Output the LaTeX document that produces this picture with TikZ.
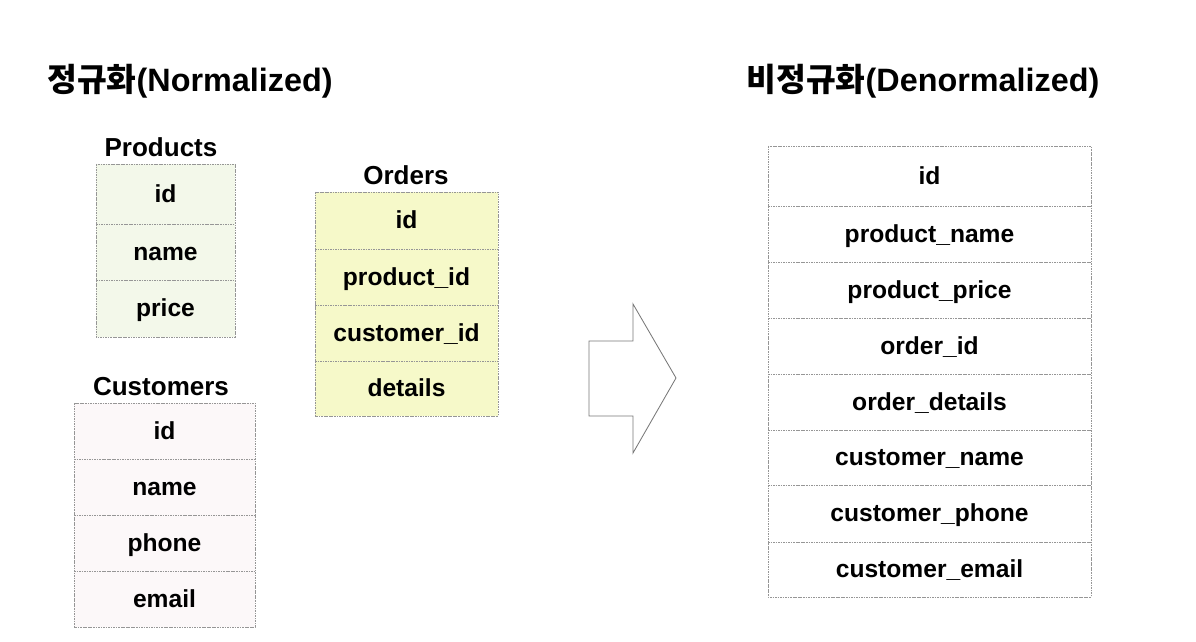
\documentclass[tikz,border=0pt]{standalone}
\usepackage{fontspec}
\setmainfont{Liberation Sans}
\newfontfamily\krfont{Noto Sans CJK KR}
\definecolor{prodfill}{RGB}{243,248,234}
\definecolor{ordfill}{RGB}{246,249,201}
\definecolor{custfill}{RGB}{252,248,249}
\definecolor{gridline}{RGB}{150,150,150}
\tikzset{
  cell/.style = {draw=gridline, line width=0.5pt, dash pattern=on 1.2pt off 0.6pt},
  field/.style = {font=\bfseries\fontsize{17.5}{21}\selectfont, text height=12.5pt, text depth=3.5pt, inner sep=0pt, yshift=-1.5pt},
  tname/.style = {font=\bfseries\fontsize{18.5}{22}\selectfont, text height=13pt, text depth=3.5pt, inner sep=0pt, yshift=-2pt},
  heading/.style = {font=\bfseries\fontsize{23}{27}\selectfont, text height=16.5pt, text depth=4.5pt, inner sep=0pt, yshift=-2pt}
}
\begin{document}
\begin{tikzpicture}[x=0.025cm, y=-0.025cm]

\useasboundingbox (0,0) rectangle (1196,642);

% headings
\node[heading] (normal) at (190,80) {{\krfont 정규화}(Normalized)};
\node[heading] (denormal) at (923,80) {{\krfont 비정규화}(Denormalized)};

% Products
\node[tname] (products) at (161,147) {Products};
\filldraw[cell, fill=prodfill] (96,164) rectangle (235,337);
\foreach \y in {224,280} {\draw[cell] (96,\y) -- (235,\y);}
\foreach \y/\t/\n in {194/id/p1, 252/name/p2, 308/price/p3}
  {\node[field] (\n) at (165.5,\y) {\t};}

% Orders
\node[tname] (orders) at (406,175) {Orders};
\filldraw[cell, fill=ordfill] (315,192) rectangle (498,416);
\foreach \y in {249,305,361} {\draw[cell] (315,\y) -- (498,\y);}
\foreach \y/\t/\n in {220.5/id/o1, 277/product\_id/o2, 333/customer\_id/o3, 388.5/details/o4}
  {\node[field] (\n) at (406.5,\y) {\t};}

% Customers
\node[tname] (customers) at (161,386) {Customers};
\filldraw[cell, fill=custfill] (74,403) rectangle (255,627);
\foreach \y in {459,515,571} {\draw[cell] (74,\y) -- (255,\y);}
\foreach \y/\t/\n in {431/id/c1, 487/name/c2, 543/phone/c3, 599/email/c4}
  {\node[field] (\n) at (164.5,\y) {\t};}

% arrow
\draw[gridline!80!black, line width=0.6pt] (589,341) -- (633,341) -- (633,304) -- (676,378)
  -- (633,453) -- (633,416) -- (589,416) -- cycle;

% Denormalized
\filldraw[cell, fill=white] (768,146) rectangle (1091,597);
\foreach \y in {206,262,318,374,430,485,542} {\draw[cell] (768,\y) -- (1091,\y);}
\foreach \y/\t/\n in {176/id/d1, 234/product\_name/d2, 290/product\_price/d3, 346/order\_id/d4,
  402/order\_details/d5, 457.5/customer\_name/d6, 513.5/customer\_phone/d7, 569.5/customer\_email/d8}
  {\node[field] (\n) at (929.5,\y) {\t};}

\end{tikzpicture}
\end{document}
